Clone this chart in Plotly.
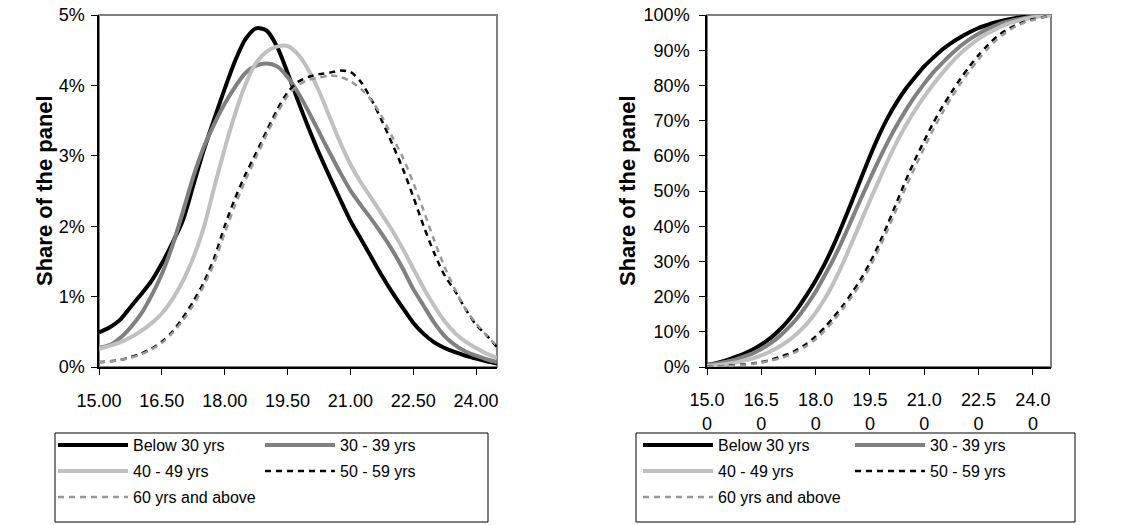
import plotly.graph_objects as go

# ---------------- data ----------------
age_values = [15.00, 15.25, 15.50, 15.75, 16.00, 16.25, 16.50, 16.75, 17.00, 17.25,
              17.50, 17.75, 18.00, 18.25, 18.50, 18.75, 19.00, 19.25, 19.50, 19.75,
              20.00, 20.25, 20.50, 20.75, 21.00, 21.25, 21.50, 21.75, 22.00, 22.25,
              22.50, 22.75, 23.00, 23.25, 23.50, 23.75, 24.00, 24.25, 24.50]

tick_values = [15.0, 16.5, 18.0, 19.5, 21.0, 22.5, 24.0]
tick_labels_left = ["15.00", "16.50", "18.00", "19.50", "21.00", "22.50", "24.00"]
tick_labels_right = ["15.0<br>0", "16.5<br>0", "18.0<br>0", "19.5<br>0",
                     "21.0<br>0", "22.5<br>0", "24.0<br>0"]

series_names = ["Below 30 yrs", "30 - 39 yrs", "40 - 49 yrs", "50 - 59 yrs", "60 yrs and above"]

# left panel: share of the panel (%)
share_below30 = [0.49, 0.56, 0.67, 0.85, 1.03, 1.22, 1.47, 1.76, 2.08, 2.58,
                 3.08, 3.52, 3.95, 4.35, 4.66, 4.81, 4.78, 4.55, 4.18, 3.78,
                 3.40, 3.04, 2.71, 2.39, 2.08, 1.82, 1.56, 1.30, 1.06, 0.84,
                 0.63, 0.47, 0.35, 0.27, 0.21, 0.16, 0.12, 0.08, 0.05]
share_30_39 = [0.27, 0.31, 0.41, 0.56, 0.75, 1.01, 1.32, 1.72, 2.20, 2.70,
               3.12, 3.45, 3.74, 3.98, 4.18, 4.28, 4.31, 4.27, 4.12, 3.90,
               3.63, 3.34, 3.05, 2.77, 2.51, 2.30, 2.10, 1.89, 1.66, 1.40,
               1.11, 0.87, 0.63, 0.44, 0.31, 0.22, 0.16, 0.11, 0.07]
share_40_49 = [0.26, 0.30, 0.35, 0.42, 0.51, 0.62, 0.76, 0.96, 1.22, 1.55,
               1.98, 2.55, 3.10, 3.60, 4.02, 4.32, 4.48, 4.55, 4.56, 4.44,
               4.22, 3.92, 3.56, 3.20, 2.88, 2.62, 2.40, 2.17, 1.94, 1.68,
               1.40, 1.12, 0.87, 0.65, 0.48, 0.36, 0.27, 0.19, 0.13]
share_50_59 = [0.07, 0.08, 0.10, 0.14, 0.19, 0.26, 0.36, 0.50, 0.70, 0.93,
               1.20, 1.55, 2.00, 2.40, 2.74, 3.04, 3.35, 3.65, 3.90, 4.05,
               4.12, 4.16, 4.18, 4.21, 4.19, 4.05, 3.80, 3.50, 3.17, 2.82,
               2.42, 2.00, 1.62, 1.30, 1.08, 0.82, 0.60, 0.45, 0.28]
share_60_plus = [0.07, 0.08, 0.10, 0.13, 0.18, 0.25, 0.34, 0.48, 0.66, 0.88,
                 1.15, 1.48, 1.90, 2.30, 2.66, 2.98, 3.30, 3.60, 3.85, 4.00,
                 4.08, 4.11, 4.14, 4.12, 4.06, 3.95, 3.79, 3.56, 3.27, 2.98,
                 2.62, 2.22, 1.80, 1.42, 1.10, 0.82, 0.62, 0.45, 0.30]

# right panel: cumulative share of the panel (%)
cumul_below30 = [0.6, 1.1, 1.8, 2.7, 3.7, 4.9, 6.4, 8.2, 10.5, 13.3,
                 16.6, 20.4, 24.6, 29.3, 34.7, 40.7, 47.0, 53.5, 59.9, 65.8,
                 71.0, 75.4, 79.2, 82.4, 85.4, 87.9, 90.2, 92.1, 93.7, 95.1,
                 96.3, 97.2, 98.0, 98.6, 99.1, 99.5, 99.8, 99.9, 100.0]
cumul_30_39 = [0.5, 0.9, 1.4, 2.0, 2.9, 3.8, 5.1, 6.7, 8.7, 11.2,
               14.0, 17.5, 21.4, 26.0, 30.8, 36.2, 42.0, 47.8, 53.4, 58.9,
               64.1, 68.8, 73.1, 77.0, 80.5, 83.7, 86.4, 88.9, 91.2, 93.1,
               94.7, 96.0, 97.1, 98.0, 98.6, 99.1, 99.5, 99.8, 100.0]
cumul_40_49 = [0.3, 0.5, 0.8, 1.2, 1.8, 2.4, 3.3, 4.4, 5.8, 7.5,
               9.6, 12.2, 15.4, 19.3, 24.0, 29.4, 35.3, 41.3, 47.3, 53.1,
               58.8, 64.1, 68.8, 73.0, 76.8, 80.3, 83.5, 86.5, 89.1, 91.3,
               93.2, 94.8, 96.1, 97.3, 98.1, 98.8, 99.3, 99.7, 100.0]
cumul_50_59 = [0.1, 0.1, 0.3, 0.5, 0.7, 1.0, 1.4, 2.0, 2.8, 3.7,
               5.0, 6.6, 8.7, 11.2, 14.2, 17.4, 21.0, 25.0, 29.6, 34.9,
               40.8, 47.1, 53.3, 59.0, 64.3, 69.4, 73.9, 78.0, 81.9, 85.4,
               88.6, 91.4, 93.8, 95.6, 97.0, 98.0, 98.8, 99.3, 100.0]
cumul_60_plus = [0.1, 0.1, 0.2, 0.4, 0.6, 0.9, 1.2, 1.8, 2.4, 3.3,
                 4.5, 6.0, 7.9, 10.3, 13.2, 16.5, 20.0, 23.8, 28.4, 33.6,
                 39.3, 45.3, 51.3, 56.9, 62.3, 67.5, 72.2, 76.5, 80.5, 84.1,
                 87.4, 90.4, 93.0, 95.0, 96.6, 97.8, 98.6, 99.2, 100.0]

left_series = [share_below30, share_30_39, share_40_49, share_50_59, share_60_plus]
right_series = [cumul_below30, cumul_30_39, cumul_40_49, cumul_50_59, cumul_60_plus]

# ---------------- styling ----------------
W, H = 1123, 525
FONT = "Liberation Sans, Arial, sans-serif"
line_styles = [
    dict(color="#000000", width=4, dash="solid"),
    dict(color="#808080", width=4, dash="solid"),
    dict(color="#C0C0C0", width=4, dash="solid"),
    dict(color="#000000", width=2.5, dash="6px,5px"),
    dict(color="#999999", width=2.5, dash="6px,5px"),
]
legend_column = [0, 1, 0, 1, 0]


def px_x(v):
    return v / W


def px_y(v):
    return 1 - v / H


fig = go.Figure()

panels = [
    dict(xa="x", ya="y", data=left_series, legends=("legend", "legend2"), tag="L"),
    dict(xa="x2", ya="y2", data=right_series, legends=("legend3", "legend4"), tag="R"),
]
for p in panels:
    for i, name in enumerate(series_names):
        fig.add_trace(go.Scatter(
            x=age_values, y=p["data"][i], name=name, mode="lines",
            line=dict(shape="spline", smoothing=0.8, **line_styles[i]),
            xaxis=p["xa"], yaxis=p["ya"],
            legend=p["legends"][legend_column[i]],
            legendgroup=p["tag"] + str(i),
            hoverinfo="skip",
        ))

axis_common = dict(
    showgrid=False, zeroline=False, showline=True, linecolor="#000000", linewidth=1.5,
    ticks="outside", ticklen=6, tickwidth=1, tickcolor="#000000",
    tickfont=dict(family=FONT, size=18, color="#000000"),
    automargin=False, fixedrange=True,
)
y_dom = [px_y(367), px_y(15)]

fig.update_layout(
    width=W, height=H, autosize=False,
    margin=dict(l=0, r=0, t=0, b=0, autoexpand=False),
    paper_bgcolor="white", plot_bgcolor="white",
    font=dict(family=FONT, color="#000000"),
    showlegend=True,
    xaxis=dict(domain=[px_x(99), px_x(497)], range=[15, 24.5], anchor="y",
               tickvals=tick_values, ticktext=tick_labels_left, ticklabelstandoff=11,
               **axis_common),
    yaxis=dict(domain=y_dom, range=[0, 5], anchor="x", tick0=0, dtick=1,
               ticksuffix="%", ticklabelstandoff=3, **axis_common),
    xaxis2=dict(domain=[px_x(707), px_x(1051)], range=[15, 24.5], anchor="y2",
                tickvals=tick_values, ticktext=tick_labels_right, ticklabelstandoff=10,
                **axis_common),
    yaxis2=dict(domain=y_dom, range=[0, 100], anchor="x2", tick0=0, dtick=10,
                ticksuffix="%", ticklabelstandoff=6, **axis_common),
)

legend_common = dict(
    orientation="v", bgcolor="rgba(0,0,0,0)", borderwidth=0,
    font=dict(family=FONT, size=16, color="#000000"),
    itemwidth=70, tracegroupgap=2.2, xanchor="left", yanchor="top",
    y=px_y(428),
)
fig.update_layout(
    legend=dict(x=px_x(53), **legend_common),
    legend2=dict(x=px_x(260), **legend_common),
    legend3=dict(x=px_x(638), **legend_common),
    legend4=dict(x=px_x(850), **legend_common),
)

shapes = []
for xr, yr in (("x domain", "y domain"), ("x2 domain", "y2 domain")):
    shapes.append(dict(type="rect", xref=xr, yref=yr, x0=0, x1=1, y0=0, y1=1,
                       line=dict(color="#808080", width=2), layer="below"))
for x0, x1 in ((55, 488), (636, 1075)):
    shapes.append(dict(type="rect", xref="paper", yref="paper",
                       x0=px_x(x0), x1=px_x(x1), y0=px_y(522), y1=px_y(433),
                       line=dict(color="#000000", width=1), layer="below"))
fig.update_layout(shapes=shapes)

for xc in (44, 627):
    fig.add_annotation(text="<b>Share of the panel</b>", xref="paper", yref="paper",
                       x=px_x(xc), y=px_y(191), textangle=-90, showarrow=False,
                       xanchor="center", yanchor="middle",
                       font=dict(family=FONT, size=22, color="#000000"))

fig.write_html("out.html", config={"displayModeBar": False},
               post_script="document.body.style.margin='0px';")
